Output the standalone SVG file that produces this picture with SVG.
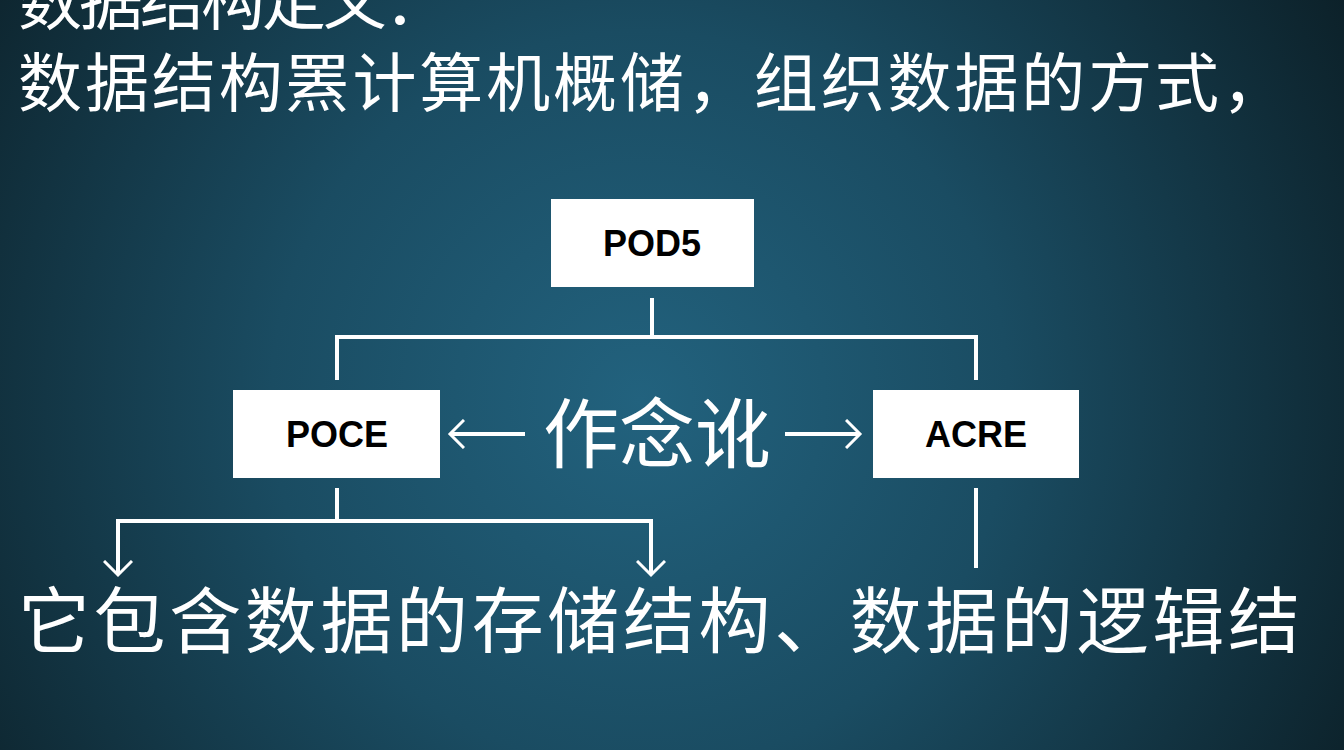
<svg xmlns="http://www.w3.org/2000/svg" width="1344" height="750" viewBox="0 0 1344 750">
<defs>
<radialGradient id="bg" cx="640" cy="400" r="820" gradientUnits="userSpaceOnUse">
<stop offset="0" stop-color="#22627e"/>
<stop offset="0.45" stop-color="#1a4c62"/>
<stop offset="1" stop-color="#0c2028"/>
</radialGradient>
<marker id="ah2" viewBox="0 0 30 30" refX="15" refY="15" markerWidth="30" markerHeight="30" markerUnits="userSpaceOnUse" orient="auto">
<path d="M1,1 L15,15 L1,29" fill="none" stroke="#ffffff" stroke-width="3"/>
</marker>
</defs>
<style>
.cn{font-family:"Noto Sans CJK SC","Noto Sans",sans-serif;fill:#ffffff;font-weight:400}
.box{fill:#ffffff}
.lbl{font-family:"Liberation Sans","DejaVu Sans",sans-serif;font-weight:bold;font-size:36px;fill:#000000;text-anchor:middle}
.ln{stroke:#ffffff;stroke-width:4;fill:none}
</style>
<rect width="1344" height="750" fill="url(#bg)"/>
<text class="cn" x="18" y="24" font-size="64" textLength="430" lengthAdjust="spacing">数据结构定义：</text>
<text class="cn" x="18" y="106" font-size="64" textLength="1268" lengthAdjust="spacing">数据结构罴计算机概储，组织数据的方式，</text>
<g id="connectors">
<polyline class="ln" points="652,298 652,337"/>
<polyline class="ln" points="337,380 337,337 976,337 976,380"/>
<polyline class="ln" points="337,488 337,521"/>
<polyline class="ln" points="118,521 651,521"/>
<line class="ln" x1="118" y1="519" x2="118" y2="575" marker-end="url(#ah2)"/>
<line class="ln" x1="651" y1="519" x2="651" y2="575" marker-end="url(#ah2)"/>
<polyline class="ln" points="976,488 976,568"/>
<line class="ln" x1="525" y1="434" x2="450" y2="434" stroke-width="3" marker-end="url(#ah2)"/>
<line class="ln" x1="785" y1="434" x2="860" y2="434" stroke-width="3" marker-end="url(#ah2)"/>
</g>
<g id="node-pod5">
<rect class="box" x="551" y="199" width="203" height="88"/>
<text class="lbl" x="652" y="256">POD5</text>
</g>
<g id="node-poce">
<rect class="box" x="233" y="390" width="207" height="88"/>
<text class="lbl" x="337" y="447">POCE</text>
</g>
<g id="node-acre">
<rect class="box" x="873" y="390" width="206" height="88"/>
<text class="lbl" x="976" y="447">ACRE</text>
</g>
<text id="relation" class="cn" x="543" y="462" font-size="76" textLength="228" lengthAdjust="spacing">作念讹</text>
<text class="cn" x="18" y="647" font-size="72" textLength="1282" lengthAdjust="spacing">它包含数据的存储结构、数据的逻辑结</text>
</svg>
